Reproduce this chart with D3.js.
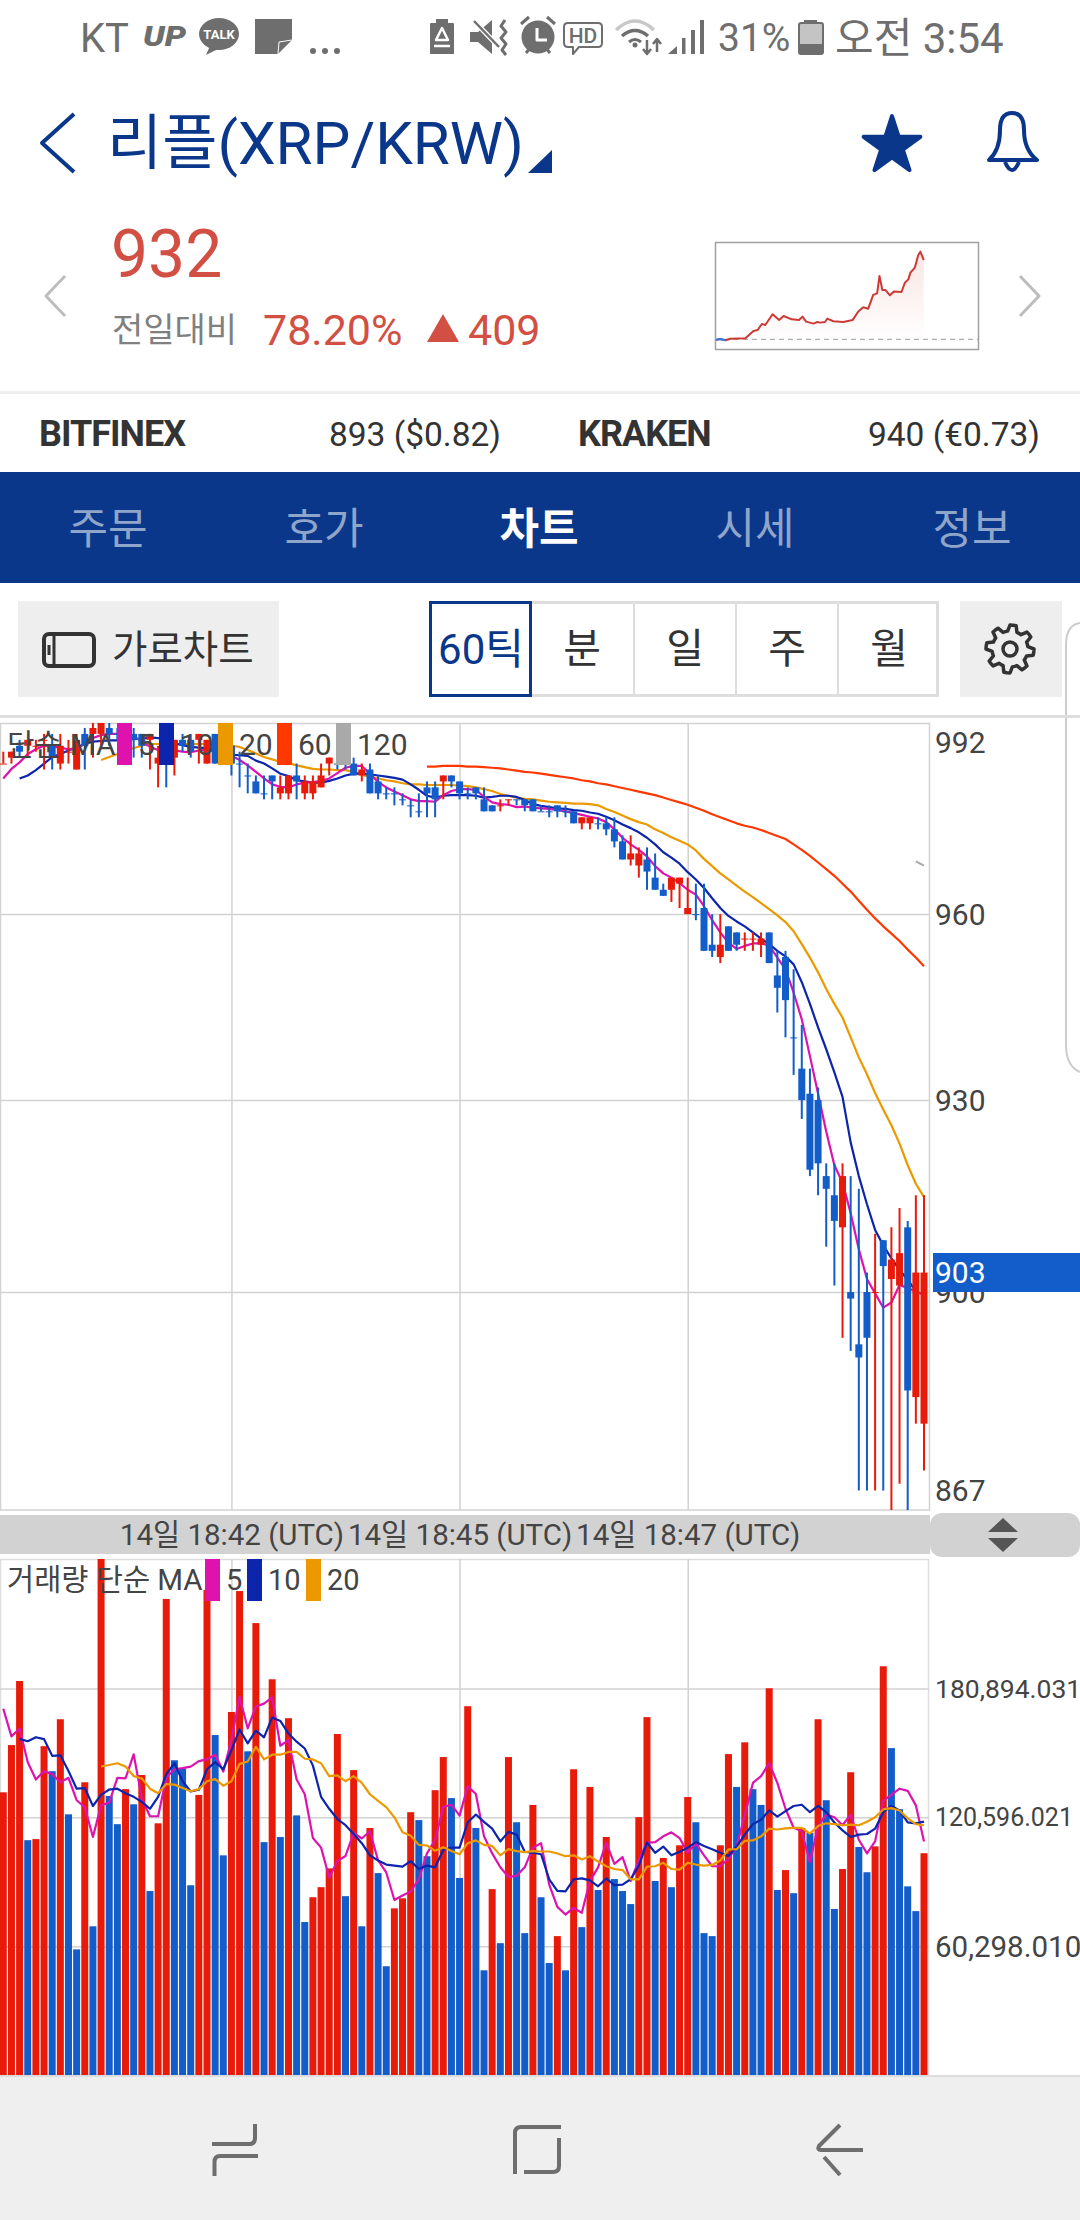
<!DOCTYPE html>
<html>
<head>
<meta charset="utf-8">
<script src="https://cdn.jsdelivr.net/npm/d3@7"></script>
<style>
html, body { margin: 0; padding: 0; background: #fff; }
svg { display: block; }
text { font-family: Roboto, "Noto Sans CJK KR", sans-serif; }
</style>
</head>
<body>
<svg id="svg" width="1080" height="2220"></svg>
<script>
// candles (prices are whole won)
var bodyTop = [985,987,988,989,988,989,988,988,987,989,
  990,991,992,991,990,989,990,990,990,986,
  988,989,989,989,990,989,990,988,988,985,
  983,982,980,983,981,983,983,982,982,983,
  986,985,985,985,984,984,982,980,980,979,
  978,977,981,981,983,983,982,980,981,979,
  978,978,979,979,979,979,977,977,978,977,
  977,976,976,975,975,974,972,970,970,969,
  966,964,966,966,961,960,961,955,955,958,
  957,956,956,956,957,950,953,940,935,931,
  930,918,915,918,900,892,900,900,908,905,
  906,910,903,903];
var bodyBottom = [985,986,987,988,988,989,986,985,987,984,
  988,990,990,990,990,989,989,988,989,985,
  985,986,988,987,989,985,985,987,985,985,
  983,980,980,982,980,980,982,980,980,981,
  985,985,985,983,983,980,980,980,980,979,
  978,977,980,979,982,982,980,980,980,977,
  977,978,979,979,978,977,977,977,977,977,
  975,975,975,975,974,972,969,969,968,967,
  964,963,964,965,960,960,954,954,953,954,
  955,956,956,955,952,948,946,940,930,919,
  920,916,911,910,899,890,893,900,904,902,
  901,885,884,880];
var wickHigh = [987,987,989,989,989,990,990,990,989,990,
  991,992,992,992,991,991,991,990,990,988,
  989,989,990,990,990,989,990,989,988,987,
  985,983,983,983,983,983,985,983,983,985,
  986,986,986,986,985,985,983,981,981,980,
  979,980,982,982,983,983,982,981,981,981,
  978,979,979,979,979,979,978,978,978,978,
  977,976,976,976,976,976,973,973,971,971,
  970,965,966,966,966,965,965,960,960,958,
  957,957,957,957,957,954,954,951,942,935,
  932,920,920,920,918,916,903,909,908,910,
  913,911,915,915];
var wickLow = [985,985,986,986,987,984,984,984,985,984,
  984,986,988,988,989,988,986,986,984,981,
  981,983,987,986,985,985,985,986,983,981,
  980,980,979,979,979,979,979,979,979,981,
  983,984,984,983,982,980,979,979,978,978,
  976,976,976,976,979,981,979,979,979,977,
  977,977,978,978,977,977,977,976,976,976,
  975,974,974,974,973,971,969,968,966,964,
  964,963,962,961,960,959,954,953,952,954,
  954,954,954,953,952,944,940,934,927,918,
  915,907,901,893,891,870,870,870,870,867,
  871,867,880,873];
var candleUp = [1,1,0,1,1,1,0,1,1,1,
  0,1,1,0,0,0,0,0,1,1,
  0,1,0,0,1,1,0,0,0,0,
  0,0,0,0,1,1,0,1,1,1,
  1,0,0,0,1,0,0,0,0,0,
  0,0,0,0,1,0,0,0,0,0,
  0,1,1,0,0,0,0,0,0,0,
  0,1,1,0,0,0,0,1,1,0,
  0,0,1,1,1,0,0,0,1,0,
  0,1,1,1,0,0,0,0,0,0,
  0,0,0,1,0,0,0,1,0,1,
  1,0,1,1];

// price moving averages
var ma5 = [982.5,984.1,985.2,986.6,987.4,988,987.9,987.7,987.4,987.6,
  988.3,989.3,989.8,990,990,989.9,989.6,988.7,987.8,987.3,
  987.2,987.2,987,986.9,987.2,987.3,987,986.6,986.3,985.6,
  984.7,983.6,982.5,981.5,981.1,981,981.5,981.8,981.9,982.1,
  982.5,983.4,984.3,984.6,984.6,983.3,981.9,981,980.3,979.7,
  979,978.7,978.7,978.6,979.7,980.4,980.7,980.7,980.6,979.4,
  978.5,978.2,978.1,977.7,977.8,977.6,977.5,977.4,977.2,977,
  976.7,976.4,976.1,975.8,975.2,974,972.6,971.5,970.6,969.5,
  967.9,966.7,966,965.1,964,963.2,961.3,959,957,955.3,
  954.3,954.8,955.2,955.2,954.9,952.9,951,947.2,942.9,937,
  931,925,919.7,917,912.2,906.6,902,899.8,897.6,898.4,
  901.1,900.6,900.1,899.6];
var ma10 = [null,null,982.5,983,983.9,985,986.1,986.6,987.2,987.7,
  988.3,988.7,988.8,988.9,988.9,989,989.1,989.2,989.4,989.3,
  988.8,988.4,988.1,987.8,987.7,987.6,987.4,986.9,986.5,986.4,
  986.3,985.5,985,984.2,983.3,982.9,982.2,982,981.8,981.8,
  982.1,982.5,983,983.3,983.3,983.2,983,982.8,982.6,982.3,
  981.5,980.6,979.6,979.3,979.6,979.7,979.7,979.7,979.6,979.3,
  979.4,979.6,979.6,979.4,978.9,978.2,977.9,977.7,977.5,977.4,
  977.2,977.1,976.8,976.6,976.1,975.5,974.8,974.2,973.5,972.6,
  971.5,970.2,969.3,968.3,966.9,965.7,964.3,962.6,961,959.7,
  958.8,958,957,956,955.1,954,953.1,951.8,948.9,945.4,
  941.6,938.1,934.4,930.5,923.3,918,913.6,909.6,907.2,905.2,
  903.4,901.9,900.1,899.6];
var ma20 = [null,null,null,null,null,null,null,null,null,null,
  null,null,985.6,986.1,986.6,987.3,987.6,988,988.3,988.3,
  988.3,988.3,988.3,988.3,988.3,988.3,988.2,988.1,988,987.8,
  987.3,986.7,986.1,985.7,985.3,985.1,984.7,984.4,984.1,984,
  984,983.9,983.9,983.6,983.1,982.8,982.5,982.2,982,981.7,
  981.5,981.5,981.4,981.4,981.4,981.4,981.3,981.2,981,980.7,
  980.4,979.9,979.6,979.3,979.1,979,978.8,978.6,978.5,978.4,
  978.3,978.3,978.2,978,977.4,976.9,976.3,975.7,975.2,974.8,
  974,973.4,972.7,972.1,971.5,970.5,969.1,967.9,966.7,965.7,
  964.7,963.7,962.8,961.8,960.8,959.8,958.7,957.2,955.1,952.9,
  950.5,947.8,945.4,943.2,940,936.8,934.1,931.1,928.5,926,
  923.1,919.7,916.8,914.7];
var ma60 = [null,null,null,null,null,null,null,null,null,null,
  null,null,null,null,null,null,null,null,null,null,
  null,null,null,null,null,null,null,null,null,null,
  null,null,null,null,null,null,null,null,null,null,
  null,null,null,null,null,null,null,null,null,null,
  null,null,984.5,984.5,984.6,984.6,984.6,984.5,984.5,984.4,
  984.3,984.2,984,983.8,983.6,983.5,983.3,983.1,982.9,982.7,
  982.5,982.2,982,981.7,981.5,981.2,980.9,980.6,980.3,980,
  979.7,979.3,978.9,978.5,978.1,977.6,977.1,976.5,976,975.5,
  975,974.6,974.3,973.9,973.4,972.9,972.4,971.5,970.6,969.6,
  968.5,967.4,966.3,965,963.7,962.2,960.7,959.3,958,956.8,
  955.6,954.2,952.9,951.5];
var ma120Index = [112,113];
var ma120 = [968.7,968];

// volume in thousands
var volume = [132.3,154.4,184.4,109.9,110.4,153.9,142.2,166.5,122,58.8,
  137,69.6,250,130.6,117.4,133.8,126.7,140.4,86.1,117.8,
  222.8,147.3,143.5,88.8,131.1,227,159.1,102.8,169.9,226.5,
  151.5,211.5,109,185.2,111.4,167,121.5,71.6,83.2,87.9,
  96.7,159.6,83.7,142.7,69.6,115.6,94.5,50.9,78,82.7,
  123,119.3,102.4,133.3,148.8,129.6,92.2,172.6,115.6,49,
  87,61.7,148.8,118.3,66.4,126.4,83.2,52.4,65,49,
  143.1,69.2,134.8,86.6,111.4,91.7,86.1,80,120.7,167.5,
  90.8,101.6,87.9,107.5,130.1,118.3,66.4,65,107.5,150.2,
  134.8,155.7,133.8,126.4,181,86.6,95.9,85.1,115.6,113.3,
  166.5,128.6,77.7,96.4,141.7,106.7,94.9,107,191.3,153,
  124.4,88.3,76.7,103.8];
var volumeUp = [1,1,1,0,1,1,0,1,0,0,
  1,0,1,0,0,1,0,1,0,1,
  1,0,0,0,1,1,0,0,1,1,
  0,1,0,1,0,1,0,0,1,1,
  1,1,0,1,0,1,0,0,1,1,
  1,0,0,1,1,0,0,1,0,0,
  1,0,1,0,0,1,0,0,1,0,
  1,0,1,0,1,0,0,0,1,1,
  0,1,0,1,1,0,0,0,1,1,
  0,1,0,0,1,0,1,0,1,0,
  1,0,0,1,1,0,0,1,1,0,
  0,0,0,1];
var volMa5 = [171.4,158.5,162.2,146.4,138.3,142.3,140.7,137,139.1,128.6,
  125.4,111.4,126.2,127.5,139.1,138.8,150.1,129.4,121.1,121.1,
  139.1,143.1,143.6,144.3,146.9,147.7,149.9,142,156.8,177,
  162.2,172.5,173.8,176.7,154.1,156.7,138.3,131.4,110.9,106.4,
  92.4,100.1,102.5,113.3,110.7,114.1,100.4,94.8,81.9,84,
  85.9,91.6,103.7,110.1,125.4,126.5,121.4,135.1,131.5,111.7,
  103.7,97.2,92.7,93.2,97.2,106.4,108.5,89.1,78.7,75.1,
  78.3,75.9,90.8,97.2,108.8,98.8,102,90.8,100.4,108.8,
  109,111.7,113.6,110.9,104,108.5,102.8,97.7,97.7,101.2,
  106.9,121.4,136.7,139.9,145.9,136.7,124.6,115.7,114.1,99.6,
  116.5,121.9,120.6,116.9,121.9,110.1,103.7,109.3,128.3,131.1,
  134,133,126.2,109.3];
var volMa10 = [null,null,157.3,156.2,158.1,157.2,149.4,149.6,142.3,134,
  134.3,125.9,131.1,133.6,134,131.9,130.2,127.8,124.6,130.2,
  140.7,146,137.5,132.7,133.5,143.1,146.4,143.1,152,161.7,
  155.2,161.2,158,167.3,165.7,159.8,156,152.8,144.8,130.2,
  124.6,119.8,116.9,112.8,108.5,102.8,100.4,98.5,98,97.5,
  100.1,96.4,98,97.2,105.3,106.4,106.4,118.2,121.9,118.5,
  115.3,109.3,113.8,112.5,104.5,104,103.3,91.6,86.2,85.9,
  91.6,92,91.1,88.3,92,88.8,89.1,91.6,98,108.8,
  104,106.9,102.8,104.5,106.4,109,107.2,105.7,104,102.5,
  106.9,112.5,117.4,119.5,123.8,120.9,123.5,125.9,126.5,123,
  125.9,123,118.2,114.5,111.4,112.5,112.8,115.3,123,125.9,
  123.8,118.2,117.8,118.6];
var volMa20 = [null,null,null,null,null,null,null,null,null,null,
  null,null,144.4,145.1,145.9,144.4,139.9,138.8,134,131.9,
  136.2,135.9,134.3,132.8,133.8,137.5,138.5,135.4,137.5,145.6,
  146.7,153.6,147.7,149.9,149.9,151.2,151.2,148,147.7,145.9,
  139.9,140.2,137.5,139.9,136.7,131.4,128.3,125.4,120.6,113.6,
  112,107.7,107.4,104.9,106.6,104.8,103.3,108.5,109.8,107.7,
  107.2,102.8,105.7,104.8,104.3,104.8,104.6,104.6,103.7,102.4,
  102.8,100.9,102.4,99.9,97.7,96.4,95.9,91.6,91.6,97.5,
  97.7,99.3,96.4,96.1,99.3,98.5,98,98.3,100.4,105.6,
  105.7,109.6,109.8,111.7,115.3,114.9,115.4,115.7,115.7,113,
  116.5,117.8,117.4,116.9,117.2,116.9,118.5,120.6,124.3,124.9,
  123.8,120.1,117.4,116.9];

var priceTicks = [992,960,930,900,867];
var priceGrid = [960,930,900];
var lastPrice = 903;
var timeTicks = [28,56,84];
var timeLabels = ["14일 18:42 (UTC)","14일 18:45 (UTC)","14일 18:47 (UTC)"];
var volumeTicks = [60.29801,120.596021,180.894031];
var volumeLabels = ["60,298.010","120,596.021","180,894.031"];

// mini chart: fraction of the day, price
var sparkTime = [0,.016,.036,.055,.112,.143,.159,.175,.188,.216,.241,.258,.289,.317,.33,.344,.372,.385,.397,.416,.425,
  .448,.486,.522,.543,.562,.581,.6,.615,.624,.635,.647,.664,.679,.708,.721,.734,.742,.759,.772,.78,.793];
var sparkPrice = [520,525,518,526,528,566,571,602,597,652,623,643,626,623,640,614,604,612,609,612,630,
  616,612,623,666,688,681,752,760,850,777,777,750,769,767,815,832,867,893,958,975,932];
var prevClose = 523;

var tabNames = ["주문","호가","차트","시세","정보"];
var periodNames = ["60틱","분","일","주","월"];

var RED = "#e81a0a", BLUE = "#125dc9", NAVY = "#0a3789", MAGENTA = "#de13ae",
    DEEP = "#0d24ad", ORANGE = "#ec9900", VERMIL = "#ff3800", GRAY = "#a9a9a9",
    GRID = "#d2d2d2", LABEL = "#444444";

var svg = d3.select("#svg");

function label(x, y, str, size, fill, anchor, weight) {
  return svg.append("text").attr("x", x).attr("y", y)
    .attr("font-size", size).attr("fill", fill)
    .attr("text-anchor", anchor || "start")
    .attr("font-weight", weight || 400)
    .attr("dominant-baseline", "central")
    .text(str);
}

function box(x, y, w, h, fill, stroke, sw) {
  return svg.append("rect").attr("x", x).attr("y", y).attr("width", w).attr("height", h)
    .attr("fill", fill || "none").attr("stroke", stroke || "none").attr("stroke-width", sw || 0);
}

function pathTo(d, stroke, sw, fill) {
  return svg.append("path").attr("d", d).attr("fill", fill || "none")
    .attr("stroke", stroke || "none").attr("stroke-width", sw || 0)
    .attr("stroke-linejoin", "round");
}

// ---- status bar
var statusGray = "#6e6e6e";
label(80, 38, "KT", 40, statusGray);
label(143, 37, "UP", 27, statusGray, "start", 900)
  .attr("font-style", "italic").attr("textLength", 43).attr("lengthAdjust", "spacingAndGlyphs");
svg.append("ellipse").attr("cx", 219).attr("cy", 34).attr("rx", 20).attr("ry", 16).attr("fill", statusGray);
pathTo("M210 46L206 55L218 49Z", null, 0, statusGray);
label(219, 34, "TALK", 13, "#fff", "middle", 700);
pathTo("M255 19H292V40L278 54H255Z", null, 0, statusGray);
pathTo("M292 40L279 42L278 54", "#fff", 1);
[313, 325, 337].forEach(function(cx) {
  svg.append("circle").attr("cx", cx).attr("cy", 51).attr("r", 3).attr("fill", statusGray);
});
// recycle battery
pathTo("M430 24Q430 23 431 23H436V19H448V23H453Q454 23 454 24V54H430Z", null, 0, statusGray);
pathTo("M442 28L448 40H436ZM434 46H450", "#fff", 2.5);
// mute
pathTo("M470 32H478L492 20V54L478 42H470Z", null, 0, statusGray);
pathTo("M474 21L499 47", "#fff", 5);
pathTo("M474 21L499 47", statusGray, 2.5);
pathTo("M505 20L501 26L506 32L501 38L506 44L502 50L506 55", statusGray, 3);
// alarm
svg.append("circle").attr("cx", 538).attr("cy", 37).attr("r", 16.5).attr("fill", statusGray);
pathTo("M521 24L529 17M555 24L547 17M526 53L530 48M550 53L546 48", statusGray, 3);
pathTo("M537 28V40H547", "#fff", 3);
// HD bubble
pathTo("M568 23H598Q602 23 602 27V43Q602 47 598 47H579L573 54V47H568Q564 47 564 43V27Q564 23 568 23Z", statusGray, 2, "#fff");
label(583, 35.5, "HD", 21, statusGray, "middle", 500);
// wifi with arrows
pathTo("M616 30Q635 12 654 30", "#c8c8c8", 3.5);
pathTo("M622 36Q635 25 648 36", statusGray, 3.5);
pathTo("M629 42Q635 37 641 42", statusGray, 3);
svg.append("circle").attr("cx", 635).attr("cy", 45).attr("r", 2.5).attr("fill", statusGray);
pathTo("M647 40V53M643 49L647 54L651 49", statusGray, 2.5);
pathTo("M657 52V40M653 44L657 39L661 44", statusGray, 2.5);
// signal
pathTo("M668 54L677 46V54Z", null, 0, statusGray);
box(682, 38, 3.5, 16, statusGray);
box(691, 30, 4, 24, statusGray);
box(700, 20, 4, 34, statusGray);
label(718, 38, "31%", 39, statusGray);
box(804, 20, 13, 4, statusGray);
box(799, 23, 24, 31, "#c4c4c4", statusGray, 2).attr("rx", 2);
box(799, 44, 24, 10, statusGray);
label(835, 38, "오전 3:54", 42, statusGray);

// ---- title row
pathTo("M74 114L42 143L74 172", NAVY, 4);
label(107, 143, "리플(XRP/KRW)", 60, NAVY);
pathTo("M528 173H552V150Z", null, 0, NAVY);
svg.append("path").attr("d", d3.symbol(d3.symbolStar).size(1000)())
  .attr("transform", "translate(892,146)").attr("fill", NAVY)
  .attr("stroke", NAVY).attr("stroke-width", 4).attr("stroke-linejoin", "round");
pathTo("M989 160Q1000 150 1000 130Q1000 113 1012 113Q1024 113 1024 130Q1024 150 1037 160Z", NAVY, 4, "#fff");
pathTo("M1005 162Q1012 178 1019 162", NAVY, 4);

// ---- price row
pathTo("M65 276L46 296L65 316", "#bdbdbd", 3);
pathTo("M1020 276L1039 296L1020 316", "#bdbdbd", 3);
label(111, 254, "932", 66, "#d24f44");
label(112, 330, "전일대비", 34, "#808080");
label(263, 330, "78.20%", 43, "#d24f44");
pathTo("M427 342L443 314L459 342Z", null, 0, "#d24f44");
label(468, 330, "409", 43, "#d24f44");

// mini chart
box(715.5, 242.5, 263, 107, "#fff", "#a0a0a0", 1.5);
var sparkX = d3.scaleLinear().domain([0, 1]).range([716, 978]);
var sparkY = d3.scaleLinear().domain([prevClose, 932]).range([339.3, 260]);
var gradient = svg.append("defs").append("linearGradient").attr("id", "sparkFill")
  .attr("x1", 0).attr("x2", 0).attr("y1", 0).attr("y2", 1);
gradient.append("stop").attr("offset", "0").attr("stop-color", "#f8e6e3");
gradient.append("stop").attr("offset", "1").attr("stop-color", "#ffffff");
svg.append("path").datum(sparkTime)
  .attr("d", d3.area()
    .x(function(d) { return sparkX(d); })
    .y0(sparkY(prevClose))
    .y1(function(d, i) { return sparkY(sparkPrice[i]); }))
  .attr("fill", "url(#sparkFill)");
svg.append("line").attr("x1", sparkX(0)).attr("x2", sparkX(1))
  .attr("y1", sparkY(prevClose)).attr("y2", sparkY(prevClose))
  .attr("stroke", "#999").attr("stroke-width", 1).attr("stroke-dasharray", "5 4");
svg.append("path").datum(sparkTime)
  .attr("d", d3.line()
    .x(function(d) { return sparkX(d); })
    .y(function(d, i) { return sparkY(sparkPrice[i]); }))
  .attr("fill", "none").attr("stroke", "#cd3a35").attr("stroke-width", 2).attr("stroke-linejoin", "round");
svg.append("path").datum(sparkTime.slice(0, 3))
  .attr("d", d3.line()
    .x(function(d) { return sparkX(d); })
    .y(function(d, i) { return sparkY(sparkPrice[i]); }))
  .attr("fill", "none").attr("stroke", "#2a7be0").attr("stroke-width", 2);

// ---- exchange row
box(0, 391, 1080, 3, "#eeeeee");
label(39, 434, "BITFINEX", 36, "#333", "start", 700).attr("letter-spacing", -1);
label(501, 434, "893 ($0.82)", 33.5, "#333", "end");
label(578, 434, "KRAKEN", 36, "#333", "start", 700).attr("letter-spacing", -1);
label(1040, 434, "940 (€0.73)", 33.5, "#333", "end");

// ---- tabs
box(0, 472, 1080, 111, NAVY);
var tabCentre = [108, 324, 539, 755, 972];
tabNames.forEach(function(t, i) {
  label(tabCentre[i], 529, t, 43, i == 2 ? "#ffffff" : "#8fa5c9", "middle", i == 2 ? 700 : 400);
});

// ---- toolbar
box(18, 601, 261, 96, "#eeeeee");
box(44, 634, 50, 32, "none", "#333", 4).attr("rx", 5);
pathTo("M54 636V664M49 645V655", "#333", 3);
label(112, 649, "가로차트", 38.5, "#333");
box(430.5, 602.5, 507, 93, "#fff", "#dddddd", 3);
[633, 735, 837].forEach(function(x) { box(x, 604, 2, 90, "#dddddd"); });
box(430.5, 602.5, 100, 93, "#fff", NAVY, 3);
var periodCentre = [481, 582, 685, 787, 889];
periodNames.forEach(function(t, i) {
  label(periodCentre[i], 649, t, i == 0 ? 42 : 41, i == 0 ? NAVY : "#333", "middle");
});
box(960, 601, 102, 96, "#eeeeee");
var gearPts = d3.range(48).map(function(k) {
  var a = k / 48 * 2 * Math.PI, tooth = (k % 6) < 3;
  var r = tooth ? 24 : 18;
  return [1010 + r * Math.sin(a), 649 - r * Math.cos(a)];
});
svg.append("path").attr("d", d3.line().curve(d3.curveLinearClosed)(gearPts))
  .attr("fill", "none").attr("stroke", "#333").attr("stroke-width", 3.5).attr("stroke-linejoin", "round");
svg.append("circle").attr("cx", 1010).attr("cy", 649).attr("r", 7).attr("fill", "none").attr("stroke", "#333").attr("stroke-width", 3.5);

// side drawer outline
pathTo("M1080 623Q1066 625 1066 645V1045Q1066 1066 1080 1072", "#cccccc", 2);

box(0, 715, 1080, 3, "#dedede");

// ---- scales
var x = d3.scaleLinear().domain([0, 113]).range([3.3, 924]);
var priceY = d3.scaleLog().domain([867, 992]).range([1510.8, 722.1]);
var volumeY = d3.scaleLinear().domain([0, 241.5]).range([2075, 1559]);
var panelRight = 929;
var bodyWidth = 7;
var barWidth = 7;

// ---- price panel
var pricePanel = svg.append("g");
pricePanel.append("rect").attr("x", 0.5).attr("y", 723.5).attr("width", panelRight).attr("height", 786.5)
  .attr("fill", "#fff").attr("stroke", GRID).attr("stroke-width", 1.5);

var grid1 = pricePanel.append("g").attr("transform", "translate(0,0)")
  .call(d3.axisRight(priceY).tickValues(priceGrid).tickSize(panelRight).tickFormat(""));
var grid2 = pricePanel.append("g").attr("transform", "translate(0,723)")
  .call(d3.axisBottom(x).tickValues(timeTicks).tickSize(787).tickFormat(""));
[grid1, grid2].forEach(function(g) {
  g.select(".domain").remove();
  g.selectAll("line").attr("stroke", GRID).attr("stroke-width", 1.5);
});

svg.append("clipPath").attr("id", "priceClip").append("rect")
  .attr("x", 0).attr("y", 723).attr("width", panelRight).attr("height", 787);
svg.append("clipPath").attr("id", "volClip").append("rect")
  .attr("x", 0).attr("y", 1559).attr("width", panelRight + 1).attr("height", 516);

function maLine(values, yScale) {
  return d3.line()
    .defined(function(d) { return d != null; })
    .x(function(d, i) { return x(i); })
    .y(function(d) { return yScale(d); })(values);
}

var priceMarks = pricePanel.append("g").attr("clip-path", "url(#priceClip)");
[[ma60, VERMIL], [ma20, ORANGE], [ma10, DEEP], [ma5, MAGENTA]].forEach(function(s) {
  priceMarks.append("path").attr("d", maLine(s[0], priceY))
    .attr("fill", "none").attr("stroke", s[1]).attr("stroke-width", 2.2).attr("stroke-linejoin", "round");
});
priceMarks.append("path").datum(ma120)
  .attr("d", d3.line().x(function(d, i) { return x(ma120Index[i]); }).y(function(d) { return priceY(d); }))
  .attr("fill", "none").attr("stroke", GRAY).attr("stroke-width", 2);

var candles = priceMarks.selectAll("g.candle").data(d3.range(bodyTop.length)).enter()
  .append("g").attr("class", "candle")
  .attr("fill", function(i) { return candleUp[i] ? RED : BLUE; })
  .attr("stroke", function(i) { return candleUp[i] ? RED : BLUE; });
candles.append("line")
  .attr("x1", function(i) { return x(i); })
  .attr("x2", function(i) { return x(i); })
  .attr("y1", function(i) { return priceY(wickHigh[i]); })
  .attr("y2", function(i) { return priceY(wickLow[i]); })
  .attr("stroke-width", 2);
candles.append("rect")
  .attr("x", function(i) { return x(i) - bodyWidth / 2; })
  .attr("width", bodyWidth)
  .attr("y", function(i) { return priceY(bodyTop[i]); })
  .attr("height", function(i) { return Math.max(1, priceY(bodyBottom[i]) - priceY(bodyTop[i])); })
  .attr("stroke", "none");

// price labels on the right
var priceAxis = svg.append("g").attr("transform", "translate(935,0)")
  .call(d3.axisRight(priceY).tickValues(priceTicks).tickSize(0).tickPadding(0)
    .tickFormat(function(d) { return d; }));
priceAxis.select(".domain").remove();
priceAxis.selectAll("text")
  .attr("font-family", "Roboto, sans-serif")
  .attr("font-size", 30).attr("fill", LABEL)
  .attr("dy", function(d) { return d == 992 ? 20 : d == 867 ? -21 : 0; })
  .attr("dominant-baseline", "central");

box(933, 1253, 147, 39, BLUE);
label(935, 1272, lastPrice, 30, "#fff");

// legend of the price panel
label(7, 744, "단순 MA", 30, LABEL);
var priceLegend = [[117, MAGENTA, "5"], [159, DEEP, "10"], [218, ORANGE, "20"], [277, VERMIL, "60"], [336, GRAY, "120"]];
priceLegend.forEach(function(l) {
  box(l[0], 723, 15, 42, l[1]);
  label(l[0] + 21, 744, l[2], 30, LABEL);
});

// ---- time bar
box(0, 1515, 930, 39, "#d2d2d2");
box(930, 1513, 150, 44, "#d2d2d2").attr("rx", 12);
var timeAxis = svg.append("g").attr("transform", "translate(0,1535)")
  .call(d3.axisBottom(x).tickValues(timeTicks).tickSize(0).tickPadding(0)
    .tickFormat(function(d, i) { return timeLabels[i]; }));
timeAxis.select(".domain").remove();
timeAxis.selectAll("text")
  .attr("font-family", 'Roboto, "Noto Sans CJK KR", sans-serif')
  .attr("font-size", 29.5).attr("fill", LABEL)
  .attr("y", 0).attr("dy", 0).attr("dominant-baseline", "central");
pathTo("M988 1532L1003 1518L1018 1532Z", null, 0, "#555");
pathTo("M988 1538L1003 1552L1018 1538Z", null, 0, "#555");

// ---- volume panel
var volPanel = svg.append("g");
volPanel.append("rect").attr("x", 0.5).attr("y", 1559.5).attr("width", panelRight - 1).attr("height", 515.5)
  .attr("fill", "#fff").attr("stroke", "#dddddd").attr("stroke-width", 1.5);
var grid3 = volPanel.append("g")
  .call(d3.axisRight(volumeY).tickValues(volumeTicks).tickSize(panelRight).tickFormat(""));
var grid4 = volPanel.append("g").attr("transform", "translate(0,1559)")
  .call(d3.axisBottom(x).tickValues(timeTicks).tickSize(516).tickFormat(""));
[grid3, grid4].forEach(function(g) {
  g.select(".domain").remove();
  g.selectAll("line").attr("stroke", GRID).attr("stroke-width", 1.5);
});

var volMarks = volPanel.append("g").attr("clip-path", "url(#volClip)");
volMarks.selectAll("rect.bar").data(volume).enter().append("rect")
  .attr("class", "bar")
  .attr("x", function(d, i) { return x(i) - barWidth / 2; })
  .attr("width", barWidth)
  .attr("y", function(d) { return volumeY(d); })
  .attr("height", function(d) { return volumeY(0) - volumeY(d); })
  .attr("fill", function(d, i) { return volumeUp[i] ? RED : BLUE; });
[[volMa5, MAGENTA], [volMa10, DEEP], [volMa20, ORANGE]].forEach(function(s) {
  volMarks.append("path").attr("d", maLine(s[0], volumeY))
    .attr("fill", "none").attr("stroke", s[1]).attr("stroke-width", 2.2).attr("stroke-linejoin", "round");
});

var volAxis = svg.append("g").attr("transform", "translate(935,0)")
  .call(d3.axisRight(volumeY).tickValues(volumeTicks).tickSize(0).tickPadding(0)
    .tickFormat(function(d, i) { return volumeLabels[i]; }));
volAxis.select(".domain").remove();
var volLabelSize = [29.5, 25, 26.5];
volAxis.selectAll("text")
  .attr("font-family", "Roboto, sans-serif")
  .attr("font-size", function(d, i) { return volLabelSize[i]; })
  .attr("fill", LABEL).attr("dy", 0)
  .attr("dominant-baseline", "central");

label(7, 1580, "거래량 단순 MA", 29.5, LABEL);
var volLegend = [[205, MAGENTA, "5"], [247, DEEP, "10"], [306, ORANGE, "20"]];
volLegend.forEach(function(l) {
  box(l[0], 1559, 15, 42, l[1]);
  label(l[0] + 21, 1580, l[2], 29, LABEL);
});

// ---- nav bar
box(0, 2075, 1080, 145, "#efefef");
box(0, 2075, 1080, 2, "#dddddd");
var navGray = "#6e6e6e";
pathTo("M255 2124V2138Q255 2144 249 2144H212", navGray, 4);
pathTo("M258 2156H220Q214.5 2156 214.5 2162V2176", navGray, 4);
pathTo("M515 2174V2133Q515 2127 521 2127H561", navGray, 4);
pathTo("M559 2138V2166Q559 2172 553 2172H524", navGray, 4);
pathTo("M840 2125L819 2146Q817 2150 821 2150H863", navGray, 4);
pathTo("M824 2157L840 2175", navGray, 4);
</script>
</body>
</html>
